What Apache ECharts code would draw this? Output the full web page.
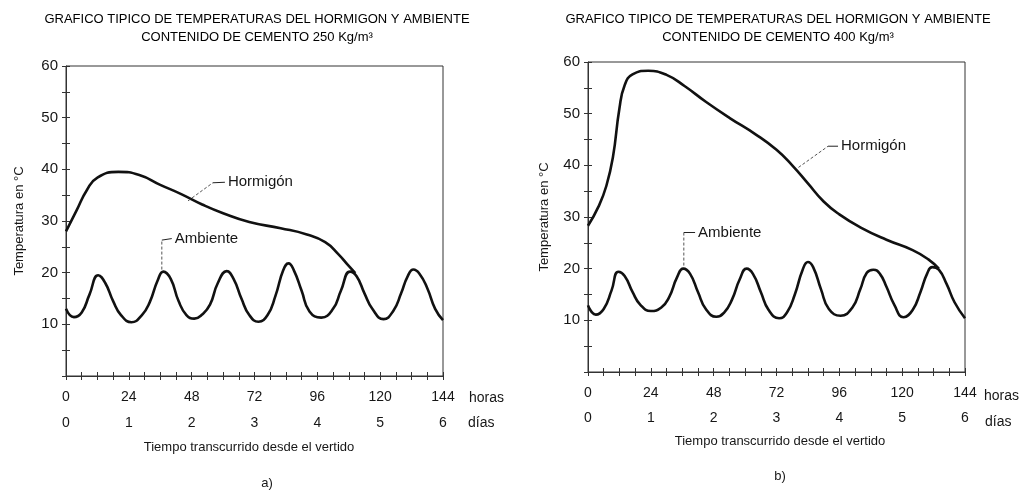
<!DOCTYPE html>
<html>
<head>
<meta charset="utf-8">
<script src="https://cdn.jsdelivr.net/npm/echarts@6/dist/echarts.min.js"></script>
<style>html,body{margin:0;padding:0;background:#fff}#c{width:1023px;height:493px}</style>
</head>
<body>
<div id="c"></div>
<script>
// ---- data (hours since pouring, temperature °C) ----
var titlesA = ['GRAFICO TIPICO DE TEMPERATURAS DEL HORMIGON Y AMBIENTE', 'CONTENIDO DE CEMENTO 250 Kg/m³'];
var titlesB = ['GRAFICO TIPICO DE TEMPERATURAS DEL HORMIGON Y AMBIENTE', 'CONTENIDO DE CEMENTO 400 Kg/m³'];

var aHormigonHours = [0, 4, 8, 12, 20, 28, 36, 44, 52, 60, 70, 82, 92, 99, 104, 108, 110.5];
var aHormigonTemp  = [28, 32, 36, 38.4, 39.5, 38.9, 37, 35.2, 33.2, 31.5, 29.8, 28.6, 27.4, 25.9, 23.6, 21.3, 19.9];

var aAmbienteHours = [0, 3, 6, 9, 12.3, 15, 18, 21, 25, 29, 32, 35, 37.2, 40, 43, 46, 49, 52, 55, 58, 61.4, 64, 67, 70, 73.5, 77, 80, 83, 85, 87, 90, 93, 97.5, 102, 105, 108.5, 111, 114, 117, 121.3, 125, 128, 130.5, 132.7, 135, 138, 141, 144];
var aAmbienteTemp  = [13, 11.4, 12.3, 15.8, 19.5, 18, 14.5, 11.8, 10.4, 11.8, 14.3, 18.5, 20.2, 18.8, 14.5, 11.8, 11.1, 11.9, 13.8, 18, 20.3, 18.8, 15, 11.8, 10.5, 11.8, 15.5, 20.5, 21.8, 20.5, 16.5, 12.5, 11.3, 13, 16.5, 20.2, 19.3, 16, 13, 11, 12.6, 16, 19.3, 20.6, 19.8, 17, 13, 10.8];

var bHormigonHours = [0, 4, 7, 9.5, 12, 14, 17, 23, 30, 37, 45, 54, 64, 72, 78, 84, 90, 96, 104, 114, 124, 130, 134];
var bHormigonTemp  = [28.3, 32, 36, 41.5, 51, 55.5, 57.6, 58.3, 57.5, 55.3, 52.3, 49.2, 46, 43, 40, 36.5, 33, 30.5, 28, 25.6, 23.6, 21.8, 20];

var bAmbienteHours = [0, 3, 6, 9, 11.6, 14, 17, 20, 24, 28, 31, 34, 36.4, 39, 42, 45, 49, 52, 55, 58, 60.6, 63, 66, 69, 73, 76, 79, 82, 84, 86, 89, 92, 96.5, 101, 104, 106.5, 109, 111.5, 114, 117, 120.5, 124, 127, 129.5, 131.5, 134, 137, 140, 144];
var bAmbienteTemp  = [12.9, 11.1, 12.2, 15.8, 19.4, 18.6, 15.5, 13, 11.8, 12.5, 14.5, 18.3, 20, 19, 15.5, 12.2, 10.7, 11.5, 14, 18, 20, 19, 15.5, 12, 10.4, 11.5, 15, 19.8, 21.3, 20.3, 16, 12.2, 10.9, 12.5, 16, 19.2, 19.8, 19, 16.5, 13, 10.6, 12, 15.5, 19, 20.3, 19.8, 17, 13.5, 10.4];

// annotation leaders in data coordinates: [curve point, elbow, end]
var aHormigonLeader = [[46.6, 33.9], [56.1, 37.4], [60.7, 37.5]];
var aAmbienteLeader = [[36.6, 20.6], [36.6, 26.3], [40.4, 26.6]];
var bHormigonLeader = [[80.4, 39.6], [91.7, 43.7], [95.5, 43.7]];
var bAmbienteLeader = [[36.6, 20.6], [36.6, 27], [40.9, 27]];

var hourMax = 144, hourStep = 6, tempMax = 60, tempStep = 5;

function zip(h, t) { return h.map(function (v, i) { return [v, t[i]]; }); }

var FONT = 'Liberation Sans, Arial, sans-serif';
var INK = '#161616';

var grids = [
  { left: 66, top: 66, width: 377, height: 310 },
  { left: 588, top: 62, width: 377, height: 310 }
];

var xAxes = [], yAxes = [], series = [];
grids.forEach(function (g, gi) {
  var base = { type: 'value', gridIndex: gi, position: 'bottom', min: 0, max: hourMax, interval: hourStep, splitLine: { show: false } };
  xAxes.push(Object.assign({}, base, {
    axisLine: { show: true, lineStyle: { color: '#333', width: 1 } },
    axisTick: { show: true, length: 4, lineStyle: { color: '#333' } },
    axisLabel: { margin: 14, fontSize: 14, color: INK, fontFamily: FONT,
      formatter: function (v) { return v % 24 === 0 ? String(v) : ''; } }
  }));
  xAxes.push(Object.assign({}, base, {
    axisLine: { show: false },
    axisTick: { show: true, inside: true, length: 4, lineStyle: { color: '#333' } },
    axisLabel: { show: false }
  }));
  xAxes.push(Object.assign({}, base, {
    axisLine: { show: false }, axisTick: { show: false },
    axisLabel: { margin: gi === 0 ? 40 : 39, fontSize: 14, color: INK, fontFamily: FONT,
      formatter: function (v) { return v % 24 === 0 ? String(v / 24) : ''; } }
  }));
  var ybase = { type: 'value', gridIndex: gi, position: 'left', min: 0, max: tempMax, interval: tempStep, splitLine: { show: false } };
  yAxes.push(Object.assign({}, ybase, {
    axisLine: { show: true, lineStyle: { color: '#333', width: 1 } },
    axisTick: { show: true, length: 4, lineStyle: { color: '#333' } },
    axisLabel: { margin: 8, fontSize: 15, color: INK, fontFamily: FONT,
      formatter: function (v) { return (v % 10 === 0 && v > 0) ? String(v) : ''; } },
    name: 'Temperatura en °C', nameLocation: 'middle', nameGap: gi === 0 ? 40 : 37,
    nameTextStyle: { fontSize: 13, color: INK, fontFamily: FONT }
  }));
  yAxes.push(Object.assign({}, ybase, {
    axisLine: { show: false },
    axisTick: { show: true, inside: true, length: 4, lineStyle: { color: '#333' } },
    axisLabel: { show: false }
  }));
});

function lineSeries(name, data, gi) {
  return { name: name, type: 'line', xAxisIndex: gi * 3, yAxisIndex: gi * 2, data: data,
    smooth: 0.5, showSymbol: false, symbol: 'none',
    lineStyle: { color: '#111', width: 2.6 }, z: 5 };
}
series.push(lineSeries('Hormigón', zip(aHormigonHours, aHormigonTemp), 0));
series.push(lineSeries('Ambiente', zip(aAmbienteHours, aAmbienteTemp), 0));
series.push(lineSeries('Hormigón', zip(bHormigonHours, bHormigonTemp), 1));
series.push(lineSeries('Ambiente', zip(bAmbienteHours, bAmbienteTemp), 1));

var chart = echarts.init(document.getElementById('c'), null, { renderer: 'canvas' });
chart.setOption({
  animation: false,
  backgroundColor: '#fff',
  title: [
    { text: titlesA.join('\n'), left: 252, top: 5, textAlign: 'center',
      textStyle: { fontSize: 13, fontWeight: 'normal', color: '#000', fontFamily: FONT, lineHeight: 18 } },
    { text: titlesB.join('\n'), left: 773, top: 5, textAlign: 'center',
      textStyle: { fontSize: 13, fontWeight: 'normal', color: '#000', fontFamily: FONT, lineHeight: 18 } }
  ],
  grid: grids.map(function (g) { return Object.assign({ show: true, borderColor: '#333', borderWidth: 1, backgroundColor: 'transparent' }, g); }),
  xAxis: xAxes,
  yAxis: yAxes,
  series: series
});

// annotations placed through the chart's own scales
var gfx = [];
function leader(gi, pts, label) {
  var p = pts.map(function (d) { return chart.convertToPixel({ gridIndex: gi }, d); });
  gfx.push({ type: 'line', shape: { x1: p[0][0], y1: p[0][1], x2: p[1][0], y2: p[1][1] },
    style: { stroke: '#555', lineWidth: 1, lineDash: [3, 2] }, z: 10 });
  gfx.push({ type: 'line', shape: { x1: p[1][0], y1: p[1][1], x2: p[2][0], y2: p[2][1] },
    style: { stroke: '#222', lineWidth: 1 }, z: 10 });
  gfx.push({ type: 'text', x: p[2][0] + 3, y: p[2][1], z: 10,
    style: { text: label, fill: INK, font: '15px ' + FONT, align: 'left', verticalAlign: 'middle' } });
}
leader(0, aHormigonLeader, 'Hormigón');
leader(0, aAmbienteLeader, 'Ambiente');
leader(1, bHormigonLeader, 'Hormigón');
leader(1, bAmbienteLeader, 'Ambiente');

function txt(t, x, y, align, size) {
  gfx.push({ type: 'text', x: x, y: y, z: 10,
    style: { text: t, fill: INK, font: (size || 14) + 'px ' + FONT, align: align || 'left', verticalAlign: 'middle' } });
}
txt('horas', 469, 398);
txt('días', 468, 423);
txt('Tiempo transcurrido desde el vertido', 249, 447, 'center', 13);
txt('a)', 267, 483, 'center', 13);
txt('horas', 984, 396);
txt('días', 985, 422);
txt('Tiempo transcurrido desde el vertido', 780, 441, 'center', 13);
txt('b)', 780, 476, 'center', 13);

chart.setOption({ graphic: gfx });
</script>
</body>
</html>
